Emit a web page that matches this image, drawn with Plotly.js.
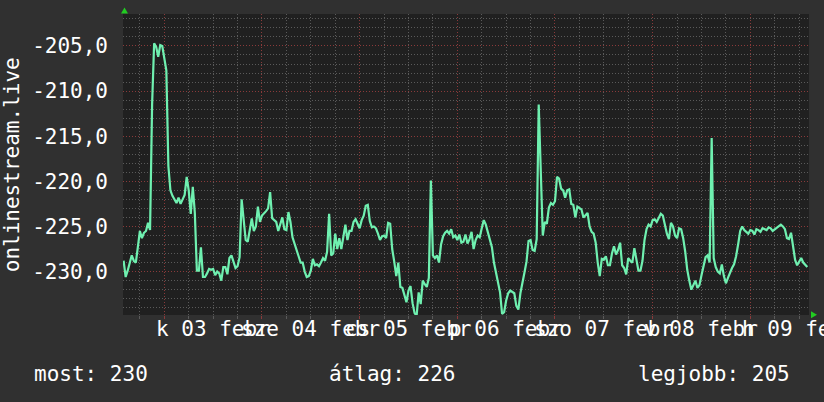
<!DOCTYPE html>
<html>
<head>
<meta charset="utf-8">
<script src="https://cdn.plot.ly/plotly-3.0.1.min.js"></script>
<style>
html,body{margin:0;padding:0;background:#303030;}
#chart{width:824px;height:402px;}
</style>
</head>
<body>
<div id="chart"></div>
<script>
// ---- data ----
var seriesStart = "2015-02-02 14:00:00";   // first sample
var stepMinutes = 30;                       // sample spacing
var values = [
-228.8,-230.6,-229.9,-229.0,-228.2,-228.8,-229.0,-227.3,-225.5,-226.3,
-225.7,-225.5,-224.6,-225.4,-211.5,-204.7,-205.1,-206.2,-204.9,-205.0,
-206.5,-207.7,-218.3,-221.0,-221.6,-222.0,-222.4,-221.8,-222.5,-222.0,
-221.5,-219.5,-221.0,-223.6,-220.6,-223.5,-229.9,-229.9,-227.3,-230.6,
-230.6,-230.2,-229.7,-229.8,-229.7,-230.4,-230.0,-230.2,-231.0,-229.5,
-229.5,-230.3,-228.5,-228.2,-229.0,-229.6,-229.4,-228.4,-222.0,-224.7,
-226.5,-226.7,-225.5,-224.1,-225.5,-225.0,-222.8,-224.5,-223.8,-223.6,
-223.3,-223.0,-221.2,-224.1,-224.3,-224.5,-225.5,-224.6,-224.0,-225.3,
-225.4,-223.4,-224.5,-226.2,-227.0,-227.6,-228.3,-229.0,-229.0,-230.0,
-230.6,-230.5,-229.9,-228.6,-229.3,-229.2,-229.4,-229.0,-228.5,-228.8,
-227.8,-223.6,-228.2,-228.0,-225.8,-227.5,-226.3,-227.5,-226.2,-224.8,
-226.5,-225.5,-225.5,-224.5,-224.2,-224.8,-225.2,-224.3,-223.8,-222.7,
-222.6,-224.4,-225.1,-225.0,-225.2,-225.8,-226.5,-226.1,-226.0,-226.3,
-224.6,-224.7,-227.5,-228.9,-230.5,-229.0,-231.7,-231.8,-232.5,-233.4,
-232.1,-231.6,-233.5,-234.6,-234.9,-232.3,-233.6,-231.0,-231.4,-231.7,
-230.7,-219.9,-228.2,-228.5,-228.2,-229.0,-227.0,-226.1,-225.7,-225.5,
-225.8,-225.3,-226.2,-226.0,-226.5,-225.9,-226.8,-226.7,-225.9,-226.9,
-226.4,-225.6,-227.5,-226.5,-226.0,-226.2,-225.2,-224.3,-224.8,-225.7,
-226.5,-227.3,-229.0,-230.2,-231.1,-232.3,-234.7,-234.5,-233.2,-232.4,
-232.1,-232.3,-232.4,-233.8,-234.2,-232.4,-231.0,-230.1,-228.9,-226.6,
-226.5,-227.6,-227.7,-226.4,-211.5,-219.8,-226.0,-224.5,-224.7,-222.9,
-222.4,-222.6,-222.2,-219.5,-219.7,-220.8,-221.0,-221.8,-221.0,-220.9,
-222.5,-222.6,-224.0,-222.8,-223.0,-223.1,-224.0,-223.7,-223.5,-225.0,
-225.6,-225.8,-226.8,-229.0,-230.5,-228.6,-228.7,-228.3,-229.3,-229.3,
-228.0,-227.2,-228.1,-227.6,-226.8,-229.3,-229.6,-230.3,-228.5,-228.8,
-229.0,-227.4,-228.9,-229.9,-229.9,-228.8,-226.5,-225.3,-224.8,-225.0,
-224.3,-224.2,-224.5,-224.0,-223.6,-223.8,-224.8,-225.8,-226.4,-224.6,
-225.0,-226.0,-226.3,-225.2,-225.3,-226.3,-227.8,-229.8,-231.0,-232.0,
-231.5,-231.0,-231.8,-231.5,-230.4,-229.2,-228.4,-228.2,-229.0,-215.2,
-228.5,-229.5,-230.0,-230.2,-229.2,-230.5,-231.3,-230.7,-230.1,-229.6,
-229.2,-228.3,-227.0,-225.5,-225.0,-225.4,-225.6,-225.8,-225.4,-225.5,
-225.9,-225.3,-225.4,-225.6,-225.2,-225.3,-225.4,-225.1,-225.2,-225.5,
-225.3,-225.1,-225.0,-224.8,-225.0,-225.3,-226.3,-226.4,-225.7,-227.4,
-228.7,-229.3,-228.9,-228.5,-229.0,-229.3,-229.5
];
var yTickVals = [-230, -225, -220, -215, -210, -205];
var yTickText = ["-230,0", "-225,0", "-220,0", "-215,0", "-210,0", "-205,0"];
var dayLabels = ["k 03 febr", "sze 04 febr", "cs 05 febr", "p 06 febr", "szo 07 febr", "v 08 febr", "h 09 febr"];
var dayLabelAt = ["2015-02-03 12:00", "2015-02-04 12:00", "2015-02-05 12:00", "2015-02-06 12:00", "2015-02-07 12:00", "2015-02-08 12:00", "2015-02-09 12:00"];
var yTitle = "onlinestream.live";
var legendTexts = ["most: 230", "átlag: 226", "legjobb: 205"];

// ---- build ----
function fmt(ms){ return new Date(ms).toISOString().replace('T',' ').slice(0,19); }
var t0 = Date.parse(seriesStart.replace(' ','T') + 'Z');
var times = values.map(function(v,i){ return fmt(t0 + i*stepMinutes*60000); });

var FONT = 'DejaVu Sans Mono, monospace';
var W = 824, H = 402, L = 123, R = 809, T = 14, B = 315.5;
function px(X){ return (X - L) / (R - L); }
function py(Y){ return (B - Y) / (B - T); }

var annotations = [];
dayLabels.forEach(function(txt, k){
  annotations.push({xref:'x', yref:'paper', x: dayLabelAt[k], y: py(330), text: txt,
    showarrow:false, xanchor:'center', yanchor:'middle',
    font:{family:FONT, size:21, color:'#ffffff'}});
});
annotations.push({xref:'paper', yref:'paper', x: px(11.5), y: py(165), text: yTitle, textangle:-90,
  showarrow:false, xanchor:'center', yanchor:'middle', font:{family:FONT, size:21, color:'#ffffff'}});
var legX = [32, 327, 636];
legendTexts.forEach(function(txt, k){
  annotations.push({xref:'paper', yref:'paper', x: px(legX[k]), y: py(375), text: txt,
    showarrow:false, xanchor:'left', yanchor:'middle', font:{family:FONT, size:21, color:'#ffffff'}});
});

function tri(pts){
  return 'M' + pts.map(function(p){ return px(p[0]) + ',' + py(p[1]); }).join(' L') + ' Z';
}
var shapes = [
  {type:'path', xref:'paper', yref:'paper', path: tri([[124.5,7.5],[121,13.5],[128,13.5]]),
   fillcolor:'#22cc22', line:{width:0}},
  {type:'path', xref:'paper', yref:'paper', path: tri([[817,315.2],[811,311.7],[811,318.7]]),
   fillcolor:'#22cc22', line:{width:0}}
];

var trace = {x: times, y: values, type:'scatter', mode:'lines',
  line:{color:'#6ff0b0', width:2.2}, hoverinfo:'skip'};

var layout = {
  width: W, height: H,
  paper_bgcolor:'#303030', plot_bgcolor:'#202020',
  margin:{l:L, r:W-R, t:T, b:H-B, pad:0},
  showlegend:false,
  xaxis:{type:'date', range:['2015-02-02 13:51', '2015-02-09 14:25'],
    tick0:'2015-02-03 00:00', dtick:86400000, showticklabels:false,
    showgrid:true, gridcolor:'#8a3a3a', gridwidth:1, griddash:'1px,2px',
    ticks:'outside', ticklen:3, tickcolor:'#8a3a3a',
    minor:{tick0:'2015-02-03 00:00', dtick:21600000, showgrid:true, gridcolor:'#5a5a5a', griddash:'1px,2px',
      ticks:'outside', ticklen:3, tickcolor:'#5a5a5a'},
    showline:false, zeroline:false, fixedrange:true},
  yaxis:{range:[-234.81, -201.46], tickvals: yTickVals, ticktext: yTickText,
    tickfont:{family:FONT, size:21, color:'#ffffff'}, ticks:'', ticklabelstandoff:14,
    showgrid:true, gridcolor:'#8a3a3a', gridwidth:1, griddash:'1px,2px',
    minor:{dtick:1, showgrid:true, gridcolor:'#5a5a5a', griddash:'1px,2px'},
    zeroline:false, showline:false, fixedrange:true},
  annotations: annotations,
  shapes: shapes
};

Plotly.newPlot('chart', [trace], layout, {staticPlot:true, displayModeBar:false});
</script>
</body>
</html>
